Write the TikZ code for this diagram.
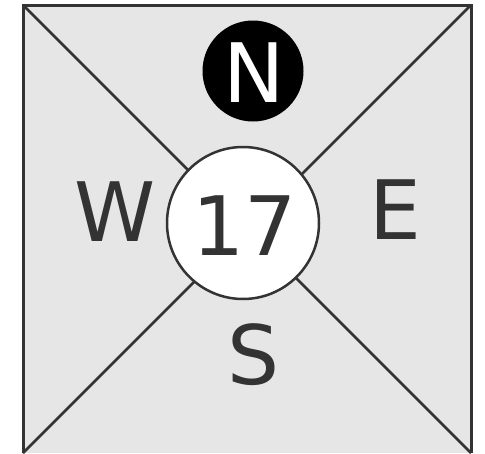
\documentclass[tikz,border=0pt]{standalone}
\usepackage{fontspec}
\setmainfont{DejaVu Sans}
\definecolor{ink}{HTML}{333333}
\definecolor{bg}{HTML}{E6E6E6}
\begin{document}
\begin{tikzpicture}[x=1pt,y=-1pt,
  lbl/.style={text=ink,font=\fontsize{82}{82}\selectfont,inner sep=0pt,anchor=center}]
\useasboundingbox (0,0) rectangle (485,453);
\coordinate (tl) at (23,5);
\coordinate (tr) at (471,5);
\coordinate (bl) at (23,453);
\coordinate (br) at (471,453);
\fill[bg] (tl) rectangle (br);
\draw[ink,line width=2.5pt] (tl) -- (br);
\draw[ink,line width=2.5pt] (tr) -- (bl);
\draw[ink,line width=3pt] (bl) -- (tl) -- (tr) -- (br);
\node[circle,draw=ink,fill=white,line width=2.5pt,minimum size=152pt,inner sep=0pt] (c) at (243,223) {};
\node[lbl] (n17) at (245,226) {17};
\node[circle,fill=black,minimum size=101pt,inner sep=0pt] (nc) at (253,71) {};
\node[lbl,text=white] (N) at (254,73) {N};
\node[lbl] (W) at (115,212) {W};
\node[lbl] (E) at (395,210) {E};
\node[lbl] (S) at (254,355) {S};
\end{tikzpicture}
\end{document}
